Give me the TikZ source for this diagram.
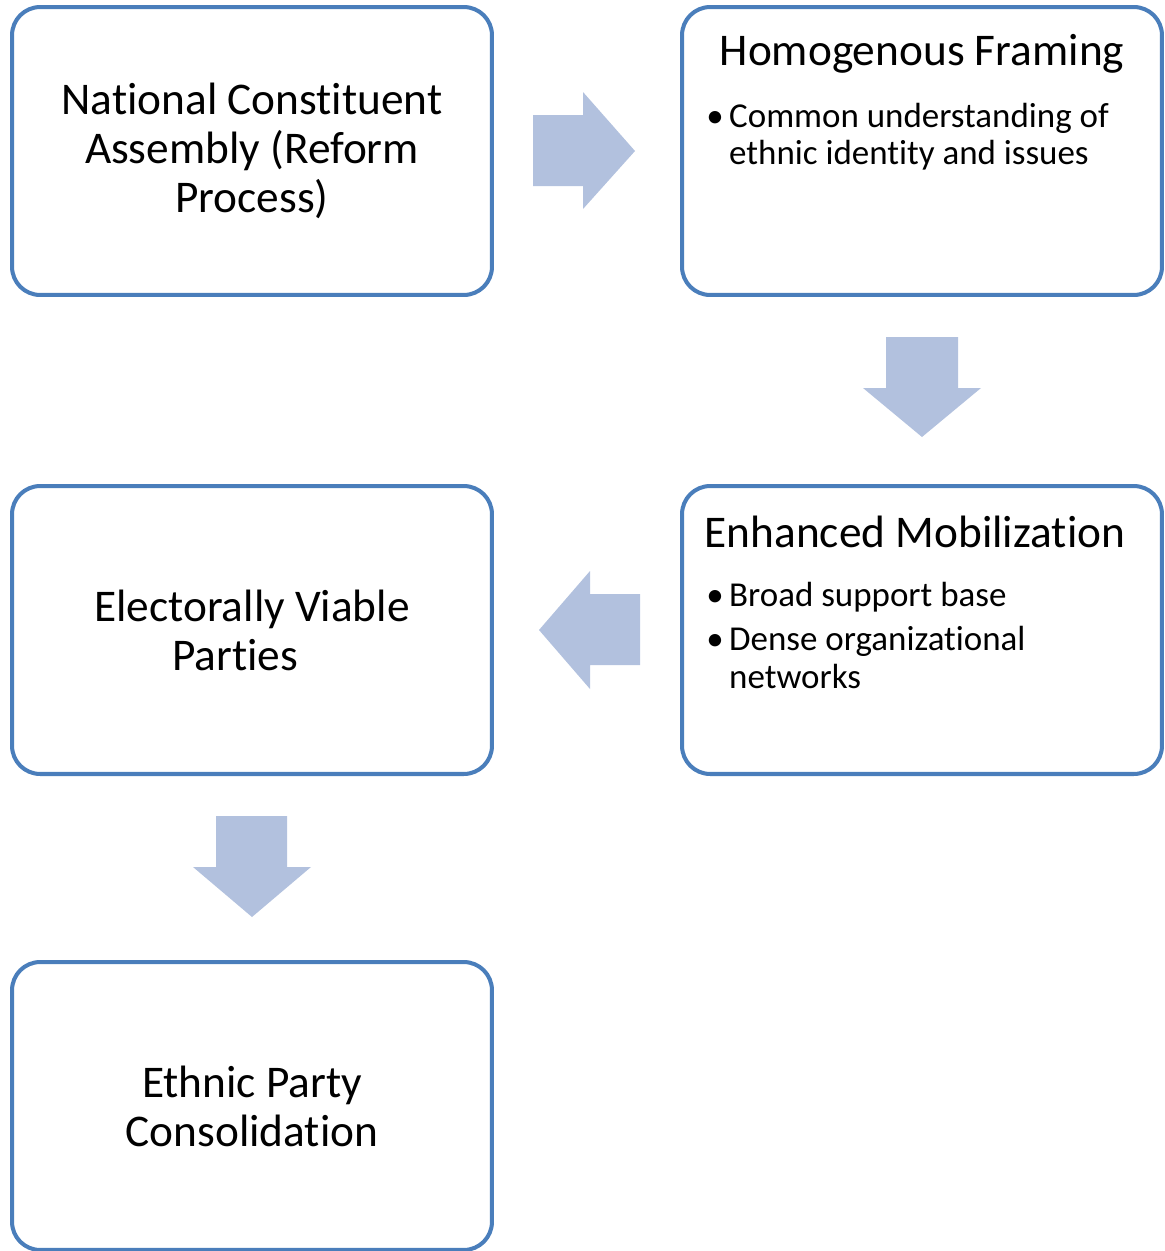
\documentclass[tikz,border=0pt]{standalone}
\usepackage{fontspec}
\setmainfont{Carlito}[Ligatures=NoCommon]
\usetikzlibrary{positioning}

\definecolor{boxblue}{HTML}{4A7EBB}
\definecolor{arrowblue}{HTML}{B2C1DE}

\newcommand{\bigtext}{\fontsize{25.8}{27.8}\selectfont}
\newcommand{\smalltext}{\fontsize{19.9}{21.5}\selectfont}

\begin{document}
\begin{tikzpicture}[x=0.02cm, y=-0.02cm]
	\tikzset{box/.style = {draw=boxblue, line width=2.3pt, rounded corners=16pt,
			minimum width=9.6cm, minimum height=5.76cm, inner sep=0pt,
			align=center, font=\bigtext}}
	\tikzset{title/.style = {inner sep=0pt, font=\bigtext}}
	\tikzset{bullets/.style = {inner sep=0pt, anchor=base west, font=\smalltext}}
	\tikzset{blockarrow/.style = {fill=arrowblue, draw=none}}

	\useasboundingbox (0,0) rectangle (1165,1251);

	\node[box] (assembly) at (252,151) {National Constituent\\Assembly (Reform\\Process)};
	\node[box] (framing) at (922,151) {};
	\node[box] (viable) at (252,630) {Electorally Viable\\Parties\hspace*{0.68cm}};
	\node[box] (mobilization) at (922,630) {};
	\node[box] (consolidation) at (252,1106) {Ethnic Party\\Consolidation};

	\node[title] (framing_title) at (922,54) {Homogenous Framing};
	\node[bullets] (framing_list) at (706,127) {%
		\renewcommand{\arraystretch}{1}%
		\begin{tabular}[t]{@{}p{13pt}@{}l@{}}
			\textbullet & Common understanding of\\
			            & ethnic identity and issues
		\end{tabular}};

	\node[title] (mobilization_title) at (915,532) {Enhanced Mobilization};
	\node[bullets] (mobilization_list) at (706,606) {%
		\renewcommand{\arraystretch}{1}%
		\begin{tabular}[t]{@{}p{13pt}@{}l@{}}
			\textbullet & Broad support base\\[4pt]
			\textbullet & Dense organizational\\
			            & networks
		\end{tabular}};

	% block arrows between the boxes
	\fill[blockarrow] (533,115) -- (583,115) -- (583,92) -- (635,151)
		-- (583,209) -- (583,186) -- (533,186) -- cycle;
	\fill[blockarrow] (886,337) -- (958,337) -- (958,388) -- (981,388)
		-- (922,437) -- (863,388) -- (886,388) -- cycle;
	\fill[blockarrow] (640,594) -- (590,594) -- (590,571) -- (539,630)
		-- (590,689) -- (590,665) -- (640,665) -- cycle;
	\fill[blockarrow] (216,816) -- (287,816) -- (287,867) -- (311,867)
		-- (252,917) -- (193,867) -- (216,867) -- cycle;

\end{tikzpicture}
\end{document}
